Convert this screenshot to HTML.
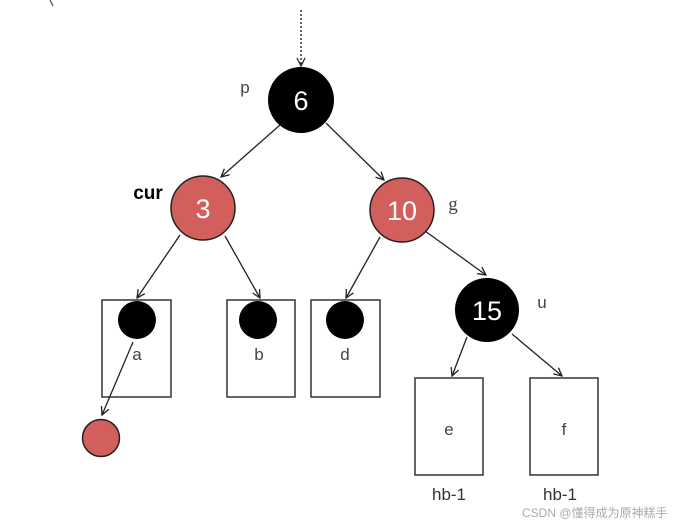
<!DOCTYPE html>
<html><head><meta charset="utf-8"><style>
html,body{margin:0;padding:0;background:#fff;width:678px;height:526px;overflow:hidden}
svg{display:block}
</style></head><body>
<svg width="678" height="526" viewBox="0 0 678 526" xmlns="http://www.w3.org/2000/svg" font-family="'Liberation Sans','DejaVu Sans',sans-serif">
<defs>
<marker id="ah" markerWidth="10" markerHeight="10" refX="9" refY="5" orient="auto" markerUnits="userSpaceOnUse">
<path d="M1,1 L9,5 L1,9" fill="none" stroke="#222" stroke-width="1.3"/>
</marker>
</defs>
<path d="M50,0 L53,6" stroke="#444" stroke-width="1.2"/>
<line x1="301" y1="10" x2="301" y2="66" stroke="#222" stroke-width="1.4" stroke-dasharray="2,2" marker-end="url(#ah)"/>
<g stroke="#222" stroke-width="1.3" fill="none" marker-end="url(#ah)">
<line x1="280" y1="125" x2="221" y2="177"/>
<line x1="326" y1="123" x2="384" y2="180"/>
<line x1="180" y1="235" x2="137" y2="298"/>
<line x1="225" y1="236" x2="260" y2="298"/>
<line x1="380" y1="237" x2="346" y2="298"/>
<line x1="425" y1="231" x2="486" y2="275"/>
<line x1="467" y1="337" x2="452" y2="376"/>
<line x1="512" y1="334" x2="562" y2="376"/>
</g>
<g fill="none" stroke="#333" stroke-width="1.5">
<rect x="102" y="300" width="69" height="97"/>
<rect x="227" y="300" width="68" height="97"/>
<rect x="311" y="300" width="69" height="97"/>
<rect x="415" y="378" width="68" height="97"/>
<rect x="530" y="378" width="68" height="97"/>
</g>
<circle cx="137" cy="320" r="19" fill="#000"/>
<circle cx="258" cy="320" r="19" fill="#000"/>
<circle cx="345" cy="320" r="19" fill="#000"/>
<line x1="133" y1="342" x2="102" y2="415" stroke="#222" stroke-width="1.3" marker-end="url(#ah)"/>
<circle cx="101" cy="438" r="18.5" fill="#d35f5d" stroke="#222" stroke-width="1.5"/>
<circle cx="301" cy="100" r="33" fill="#000"/>
<circle cx="203" cy="208" r="32" fill="#d35f5d" stroke="#222" stroke-width="1.5"/>
<circle cx="402" cy="210" r="32" fill="#d35f5d" stroke="#222" stroke-width="1.5"/>
<circle cx="487" cy="310" r="32" fill="#000"/>
<g fill="#fff" font-size="27" text-anchor="middle">
<text x="301" y="110">6</text>
<text x="203" y="218">3</text>
<text x="402" y="220">10</text>
<text x="487" y="320">15</text>
</g>
<g fill="#444" font-size="17" text-anchor="middle">
<text x="245" y="93">p</text>
<text x="453" y="210" font-family="'Liberation Serif',serif" font-size="19">g</text>
<text x="542" y="308">u</text>
<text x="137" y="360">a</text>
<text x="259" y="360">b</text>
<text x="345" y="360">d</text>
<text x="449" y="435">e</text>
<text x="564" y="435">f</text>
</g>
<text x="148" y="199" font-size="19" font-weight="bold" fill="#000" text-anchor="middle">cur</text>
<g fill="#333" font-size="17" text-anchor="middle">
<text x="449" y="500">hb-1</text>
<text x="560" y="500">hb-1</text>
</g>
<text x="522" y="517" font-size="12" fill="#aaa" font-family="'Liberation Sans','Noto Sans CJK SC',sans-serif">CSDN @懂得成为原神糕手</text>
</svg>
</body></html>
